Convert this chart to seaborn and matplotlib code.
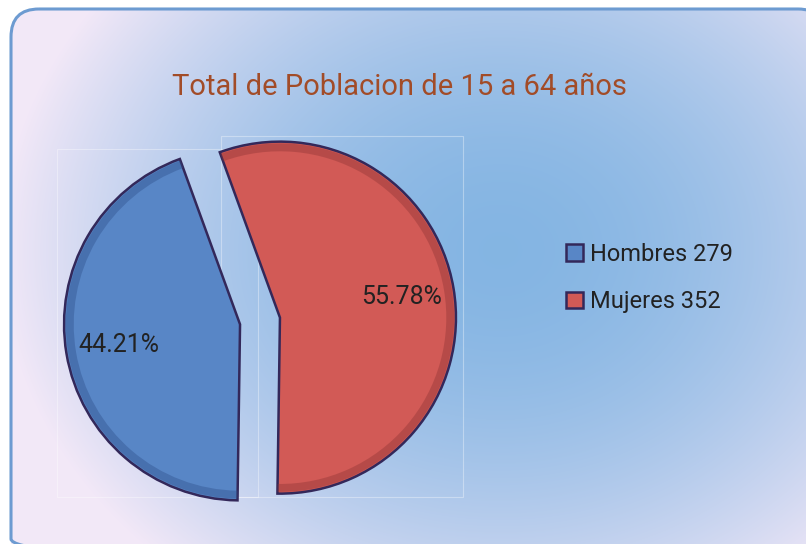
import numpy as np
import matplotlib
matplotlib.use("Agg")
import matplotlib.pyplot as plt
import seaborn as sns
from matplotlib.patches import FancyBboxPatch, Rectangle

# ---- data ----
categories = ["Hombres", "Mujeres"]
counts = [279, 352]
pct_labels = ["44.21%", "55.78%"]
title = "Total de Poblacion de 15 a 64 años"

sns.set_theme(style="white")
plt.rcParams['font.family'] = ['Roboto', 'DejaVu Sans']

colors = ["#5886c6", "#d25a56"]
rim_colors = ["#2f4f8a", "#8e3434"]
W, H = 806, 544
fig = plt.figure(figsize=(W / 100, H / 100), dpi=100)
fig.patch.set_facecolor("white")

# ---- background with gradient inside a rounded frame ----
bg = fig.add_axes([0, 0, 1, 1])
bg.axis("off")
yy, xx = np.mgrid[0:H, 0:W]
d = np.sqrt(((xx - 500) / 500) ** 2 + ((yy - 250) / 420) ** 2)
t = np.clip(d, 0, 1) ** 1.8
c_in = np.array([0.52, 0.71, 0.89])
c_out = np.array([0.95, 0.91, 0.97])
img = c_in * (1 - t[..., None]) + c_out * t[..., None]
im = bg.imshow(img, extent=(0, W, H, 0), aspect="auto", zorder=1)
bg.set_xlim(0, W)
bg.set_ylim(H, 0)
frame = FancyBboxPatch((11, 9), 815, 558,
                       boxstyle="round,pad=0,rounding_size=28",
                       fc="none", ec="#6d9bd1", lw=2.2, zorder=3)
bg.add_patch(frame)
im.set_clip_path(frame)
for (x0, y0, x1, y1) in [(57, 149, 258, 497), (221, 136, 463, 497)]:
    bg.add_patch(Rectangle((x0, y0), x1 - x0, y1 - y0, fc="none",
                           ec="white", lw=0.8, alpha=0.35, zorder=2))

# ---- pie ----
R = 176
lim = 1.2
size = 2 * lim * R
cx, cy = 260, 321
ax = fig.add_axes([(cx - size / 2) / W, (H - cy - size / 2) / H, size / W, size / H])
ax.set_facecolor("none")
lab_iter = iter(pct_labels)
wedges, texts, autotexts = ax.pie(
    counts, colors=colors, startangle=110, counterclock=True,
    explode=[0.115, 0.115], autopct=lambda p: next(lab_iter), pctdistance=0.7,
    wedgeprops=dict(edgecolor="#33285a", linewidth=1.8),
    textprops=dict(fontsize=18, color="#222222"))
# bevel rim
ax.pie(counts, colors=rim_colors, startangle=110, counterclock=True,
       explode=[0.115, 0.115], radius=0.99,
       wedgeprops=dict(width=0.045, linewidth=0, alpha=0.4))
for a in autotexts:
    a.set_zorder(5)
ax.set_xlim(-lim, lim)
ax.set_ylim(-lim, lim)
ax.set_aspect("equal")
ax.axis("off")

# ---- title ----
fig.text(399.5 / W, 1 - 95 / H, title, ha="center", va="baseline",
         fontsize=21, color="#a24c28")

# ---- legend ----
leg_labels = [f"{c} {v}" for c, v in zip(categories, counts)]
fig.legend(wedges, leg_labels, loc="center left",
           bbox_to_anchor=(566 / W, 1 - 278 / H), bbox_transform=fig.transFigure,
           frameon=False, fontsize=17, handlelength=0.7, handleheight=0.7,
           handletextpad=0.3, labelspacing=1.05, borderpad=0, borderaxespad=0,
           labelcolor="#222222")

fig.savefig("out.png", dpi=100)
